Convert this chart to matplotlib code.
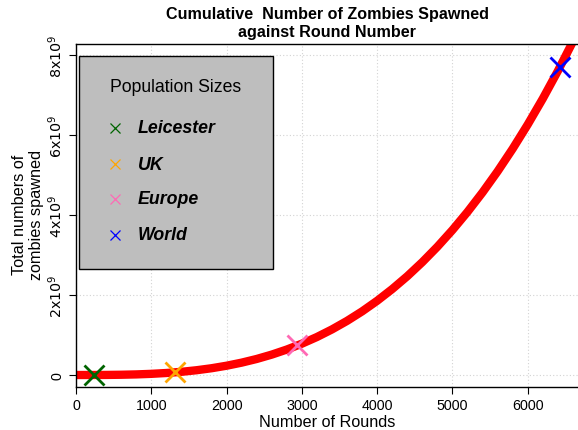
import matplotlib
matplotlib.use("Agg")
import matplotlib.pyplot as plt
from matplotlib.patches import Rectangle

plt.rcParams['font.family'] = ['Liberation Sans', 'DejaVu Sans']

# Curve values (rounds, cumulative zombies)
rounds = [0, 200, 400, 600, 800, 1000, 1200, 1400, 1600, 1800, 2000, 2200, 2400,
          2600, 2800, 3000, 3200, 3400, 3600, 3800, 4000, 4200, 4400, 4600, 4800,
          5000, 5200, 5400, 5600, 5800, 6000, 6200, 6400, 6600]
zombies = [0, 0.000232e9, 0.00186e9, 0.00626e9, 0.0148e9, 0.029e9, 0.0501e9, 0.0796e9,
           0.119e9, 0.169e9, 0.232e9, 0.309e9, 0.401e9, 0.510e9, 0.637e9, 0.783e9,
           0.950e9, 1.140e9, 1.353e9, 1.591e9, 1.856e9, 2.149e9, 2.470e9, 2.823e9,
           3.207e9, 3.625e9, 4.078e9, 4.567e9, 5.093e9, 5.658e9, 6.264e9, 6.911e9,
           7.602e9, 8.337e9]

# Populations
pop_names = ['Leicester', 'UK', 'Europe', 'World']
pop_rounds = [239, 1315, 2935, 6423]
pop_sizes = [0.35e6, 66e6, 741e6, 7.69e9]
pop_colors = ['#006400', '#FFA500', '#FF69B4', '#0000FF']

xticks = [0, 1000, 2000, 3000, 4000, 5000, 6000]
yticks = [0, 2e9, 4e9, 6e9, 8e9]
ytick_labels = ['0', r'$2\mathrm{x}10^9$', r'$4\mathrm{x}10^9$', r'$6\mathrm{x}10^9$', r'$8\mathrm{x}10^9$']

W, H = 578, 431
fig = plt.figure(figsize=(W / 100, H / 100), dpi=100)
L, R, T, B = 76, 578, 45, 388
ax = fig.add_axes([L / W, 1 - B / H, (R - L) / W, (B - T) / H])


def fx(px):
    return px / W


def fy(py):
    return 1 - py / H


ax.set_xlim(0, 6667)
ax.set_ylim(-0.3e9, 8.275e9)

ax.grid(True, color='#D3D3D3', linestyle=(0, (1, 2)), linewidth=0.8)
ax.set_axisbelow(True)

ax.plot(rounds, zombies, color='red', linewidth=6, solid_capstyle='butt', zorder=2)

for r, p, c in zip(pop_rounds, pop_sizes, pop_colors):
    ax.plot([r], [p], marker='x', color=c, markersize=14, markeredgewidth=2, linestyle='none', zorder=3)

ax.set_xticks(xticks)
ax.set_xticklabels([str(t) for t in xticks])
ax.set_yticks(yticks)
ax.set_yticklabels(ytick_labels, rotation=90, va='center')
ax.tick_params(direction='out', length=5, width=0.8, labelsize=10.3, pad=3)
ax.spines['right'].set_visible(False)
for s in ['left', 'bottom', 'top']:
    ax.spines[s].set_linewidth(1.0)

ax.set_xlabel('Number of Rounds', fontsize=11.7)
ax.xaxis.set_label_coords(fx(327), fy(423), transform=fig.transFigure)
ax.xaxis.label.set_va('center')
ax.set_ylabel('Total numbers of\nzombies spawned', fontsize=11.7, linespacing=1.2)
ax.yaxis.set_label_coords(fx(28), fy(215), transform=fig.transFigure)
ax.yaxis.label.set_va('center')

fig.text(fx(327), fy(15), 'Cumulative  Number of Zombies Spawned', fontsize=11.6,
         fontweight='bold', ha='center', va='center')
fig.text(fx(327), fy(32), 'against Round Number', fontsize=11.6,
         fontweight='bold', ha='center', va='center')

# Legend box
fig.patches.append(Rectangle((fx(79), fy(270)), fx(273) - fx(79), fy(57) - fy(270),
                             transform=fig.transFigure, facecolor='#BEBEBE',
                             edgecolor='black', linewidth=1.0, zorder=5))
fig.text(fx(110), fy(87), 'Population Sizes', fontsize=12.7, va='center', ha='left', zorder=6)
row_y = [129, 165, 200, 236]
for name, c, yy in zip(pop_names, pop_colors, row_y):
    fig.lines.append(plt.Line2D([fx(115)], [fy(yy)], marker='x', color=c, markersize=7,
                                markeredgewidth=0.9, transform=fig.transFigure, zorder=6))
    fig.text(fx(138), fy(yy), name, fontsize=12.8, fontweight='bold', fontstyle='italic',
             va='center', ha='left', zorder=6)

fig.savefig('out.png', dpi=100)
